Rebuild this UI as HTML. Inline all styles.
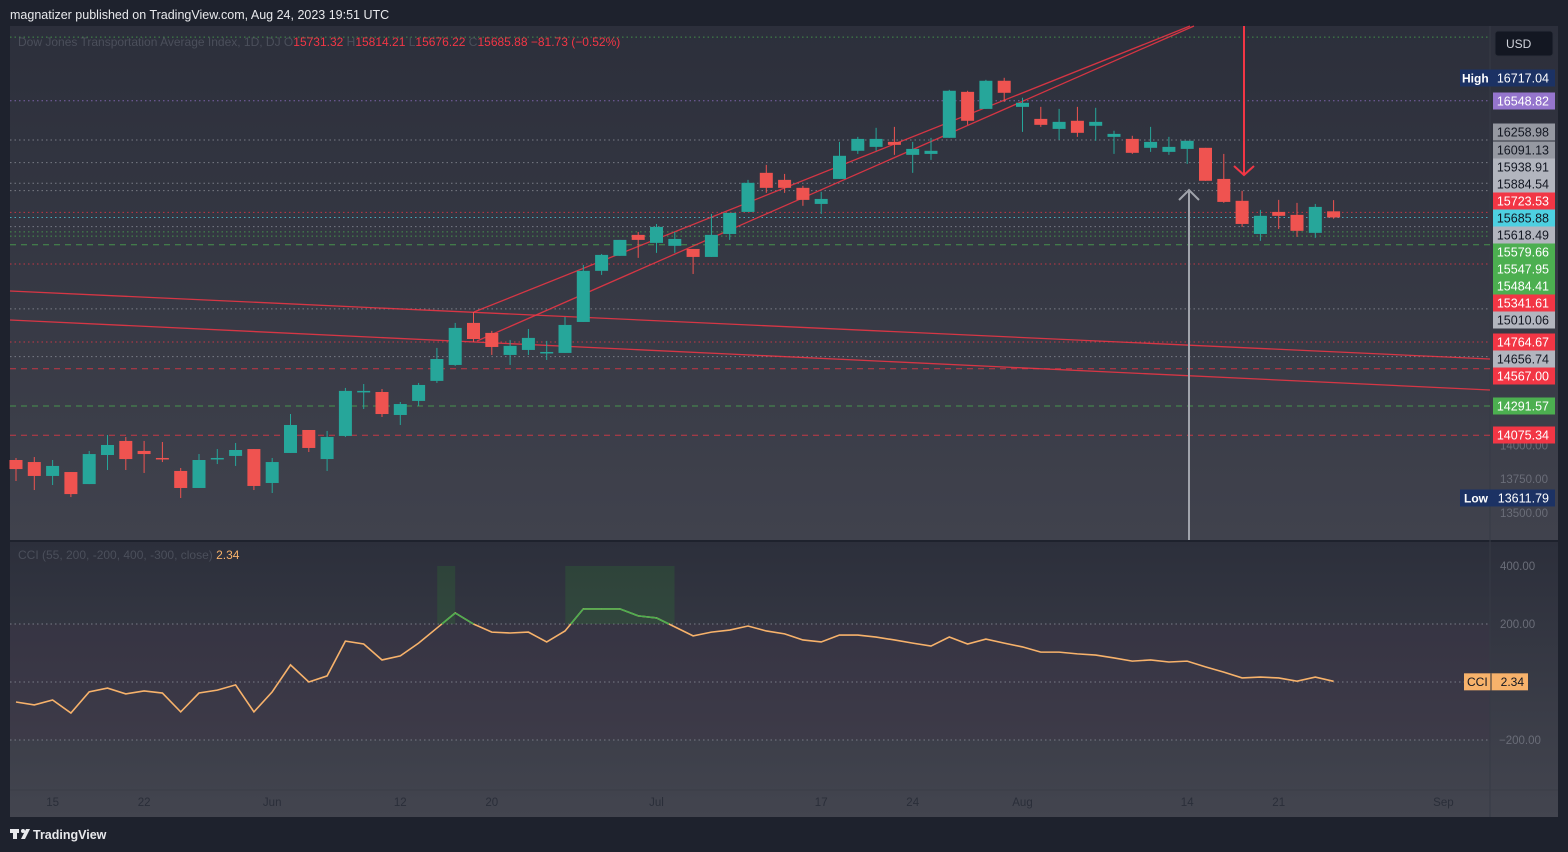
<!DOCTYPE html>
<html><head><meta charset="utf-8">
<style>
html,body{margin:0;padding:0;background:#1e222d;width:1568px;height:852px;overflow:hidden;font-family:"Liberation Sans",sans-serif;}
svg text{font-family:"Liberation Sans",sans-serif;}
</style></head>
<body>
<svg id="chart" width="1568" height="852" xmlns="http://www.w3.org/2000/svg">
<defs>
<linearGradient id="gMain" x1="0" y1="0" x2="0" y2="1"><stop offset="0" stop-color="#2c2f3b"/><stop offset="1" stop-color="#40424d"/></linearGradient>
<linearGradient id="gCci" x1="0" y1="0" x2="0" y2="1"><stop offset="0" stop-color="#2c2f3b"/><stop offset="1" stop-color="#43454f"/></linearGradient>
</defs>
<rect x="0" y="0" width="1568" height="852" fill="#1e222d"/>
<text x="10" y="19" fill="#e8e9ec" font-size="12.5">magnatizer published on TradingView.com, Aug 24, 2023 19:51 UTC</text>
<rect x="10" y="26" width="1548" height="514" fill="url(#gMain)"/>
<rect x="10" y="542" width="1548" height="275" fill="url(#gCci)"/>
<rect x="10" y="624" width="1480" height="116" fill="#3f3349" opacity="0.35"/>
<line x1="10" y1="541" x2="1558" y2="541" stroke="#1e222d" stroke-width="2"/>
<line x1="1490" y1="26" x2="1490" y2="817" stroke="#363a45" stroke-width="1"/>
<line x1="10" y1="790" x2="1558" y2="790" stroke="#3a3d48" stroke-width="1"/>
<g id="levels"></g>
<g id="trend"></g>
<g id="candles"></g>
<g id="cci"></g>
<g id="axis"></g>
<g id="labels"></g>
<text x="18" y="46" fill="#4b4f5b" font-size="12">Dow Jones Transportation Average Index, 1D, DJ  O<tspan fill="#f23645">15731.32</tspan><tspan fill="#4b4f5b">  H</tspan><tspan fill="#f23645">15814.21</tspan><tspan fill="#4b4f5b">  L</tspan><tspan fill="#f23645">15676.22</tspan><tspan fill="#4b4f5b">  C</tspan><tspan fill="#f23645">15685.88  −81.73 (−0.52%)</tspan></text>
<text x="18" y="559" fill="#4b4f5b" font-size="12">CCI (55, 200, -200, 400, -300, close)  <tspan fill="#f7b26b">2.34</tspan></text>
<rect x="1495" y="31" width="58" height="25" rx="3" fill="#131722" stroke="#2a2e39"/>
<text x="1506" y="48" fill="#d1d4dc" font-size="12">USD</text>
<g>
<rect x="10" y="829" width="9" height="4" fill="#e8e9ec"/><rect x="13" y="829" width="4" height="10" fill="#e8e9ec"/><circle cx="23" cy="831" r="2" fill="#e8e9ec"/><path d="M21 839 L26 829 L30 829 L25 839Z" fill="#e8e9ec"/>
<text x="33" y="839" fill="#e8e9ec" font-size="12.5" font-weight="bold">TradingView</text>
</g>
</svg>
<script>
const opens=[13892,13877,13774,13803,13714,13929,14033,13959,13907,13811,13685,13899,13922,13973,13722,13944,14114,13899,14070,14395,14395,14225,14329,14477,14595,14906,14832,14669,14706,14684,14684,14913,15291,15402,15557,15498,15476,15453,15394,15564,15727,16016,15964,15905,15786,15971,16179,16208,16245,16149,16156,16275,16615,16489,16697,16504,16415,16341,16401,16364,16282,16267,16201,16171,16193,16201,15971,15809,15564,15727,15705,15572,15731.32];
const highs=[13907,13914,13892,13803,13959,14077,14062,14033,14025,13833,13936,13973,14018,13973,13907,14232,14114,14107,14425,14454,14417,14321,14462,14721,14906,14987,14847,14780,14861,14773,14950,15335,15416,15520,15579,15638,15579,15453,15712,15720,15964,16075,16008,15920,15875,16245,16282,16349,16356,16245,16275,16630,16623,16704,16719,16571,16504,16489,16504,16497,16327,16290,16356,16282,16253,16201,16156,15883,15742,15816,15794,15786,15814.21];
const lows=[13737,13670,13707,13618,13714,13818,13818,13796,13877,13611,13685,13862,13848,13670,13648,13944,13951,13811,14062,14269,14210,14151,14292,14462,14588,14765,14669,14595,14669,14632,14684,14913,15261,15402,15387,15424,15424,15268,15394,15520,15727,15868,15868,15772,15712,15971,16156,16179,16149,16016,16112,16275,16371,16489,16541,16319,16356,16260,16282,16253,16156,16156,16171,16149,16082,15957,15794,15616,15513,15601,15542,15535,15676.22];
const closes=[13825,13774,13848,13640,13936,14003,13899,13936,13899,13685,13892,13907,13966,13700,13877,14151,13981,14062,14403,14403,14232,14306,14447,14639,14869,14787,14728,14736,14795,14691,14891,15291,15409,15520,15520,15616,15527,15394,15557,15720,15942,15905,15905,15816,15823,16142,16267,16267,16223,16193,16179,16623,16401,16697,16608,16534,16371,16393,16312,16393,16304,16164,16245,16208,16253,15957,15801,15638,15698,15698,15587,15764,15685.88];
const cciValues=[-69,-79,-62,-107,-34,-21,-41,-31,-38,-103,-38,-28,-10,-103,-34,59,0,21,141,131,76,90,134,186,238,200,172,169,172,138,176,252,252,252,228,221,190,159,172,179,193,176,166,145,138,162,162,155,145,134,124,155,131,148,134,121,103,103,97,93,83,72,76,69,72,52,34,14,17,14,3,17,2.34];
const timeLabels=["15","22","Jun","12","20","Jul","17","24","Aug","14","21","Sep"];
const timeLabelIdx=[2,7,14,21,26,35,44,49,55,64,69,78];
const priceTicks=[13500,13750,14000];
const cciTicks=[400,200,-200];
const levelPrices=[17020,16717.04,16548.82,16258.98,16091.13,15938.91,15884.54,15723.53,15685.88,15618.49,15579.66,15547.95,15484.41,15341.61,15010.06,14764.67,14656.74,14567.00,14291.57,14075.34];
const levelLabels=["","16717.04","16548.82","16258.98","16091.13","15938.91","15884.54","15723.53","15685.88","15618.49","15579.66","15547.95","15484.41","15341.61","15010.06","14764.67","14656.74","14567.00","14291.57","14075.34"];
const levelKinds=["g","hi","p","gr","gr","gr","gr","r","c","gr","g","g","gd","r","gr","r","gr","rd","gd","rd"];
// label layout (pixel slots on the price scale, not data)
const labelSlotY=[0,78,101,132,150,167,184,201,218,235,252,269,286,303,320,342,359,376,406,435];

const NS="http://www.w3.org/2000/svg";
function xOf(i){return 16+i*18.3;}
function yOf(p){return 513-(p-13500)*0.1352;}
function cy(v){return 682-v*0.29;}
function mk(tag,attrs,parent){const e=document.createElementNS(NS,tag);for(const k in attrs)e.setAttribute(k,attrs[k]);parent.appendChild(e);return e;}
const G=id=>document.getElementById(id);
const lineCol={g:"#4caf50",gd:"#4caf50",p:"#9575cd",gr:"#8a8d97",r:"#f23645",rd:"#f23645",c:"#4dd0e1",hi:"#2962ff"};
const boxCol={g:"#4caf50",gd:"#4caf50",p:"#9575cd",gr:"#b2b5be",r:"#f23645",rd:"#f23645",c:"#4dd0e1",hi:"#1c3264"};
levelPrices.forEach((p,i)=>{
  const k=levelKinds[i]; if(k==="hi")return;
  const l=mk("line",{x1:10,x2:1490,y1:yOf(p),y2:yOf(p),stroke:lineCol[k],"stroke-width":1,"stroke-dasharray":(k==="gd"||k==="rd")?"6 5":"1.5 3",opacity:k==="gr"?0.8:0.75},G("levels"));
  
  
});
[[10,291,1490,359],[10,320,1490,390],[474,312,1190,26],[477,341,1194,26]].forEach(t=>{
  const l=mk("line",{x1:t[0],y1:t[1],x2:t[2],y2:t[3],stroke:"#f23645","stroke-width":1.3,opacity:0.85},G("trend"));
  
  
});
const a1=mk("path",{d:"M1244 26 L1244 175 M1234 166 L1244 175 L1254 166",stroke:"#f23645","stroke-width":2,fill:"none"},G("trend"));


const a2=mk("path",{d:"M1189 540 L1189 190 M1179 200 L1189 190 L1199 200",stroke:"#a0a3ab","stroke-width":2,fill:"none"},G("trend"));


opens.forEach((o,i)=>{
  const c=closes[i],up=c>=o,col=up?"#26a69a":"#ef5350",x=xOf(i);
  const w=mk("line",{x1:x,x2:x,y1:yOf(highs[i]),y2:yOf(lows[i]),stroke:col,"stroke-width":1},G("candles"));
  
  
  const t=Math.min(yOf(o),yOf(c)),h=Math.max(1.5,Math.abs(yOf(o)-yOf(c)));
  const b=mk("rect",{x:x-6.5,y:t,width:13,height:h,fill:col},G("candles"));
  
  
});
[200,0,-200].forEach(v=>{
  const l=mk("line",{x1:10,x2:1490,y1:cy(v),y2:cy(v),stroke:"#787b86","stroke-width":1,"stroke-dasharray":"1.5 3"},G("cci"));
  
  
});
for(let i=0;i<cciValues.length;i++){
  if(cciValues[i]>200){
    let j=i;while(j+1<cciValues.length&&cciValues[j+1]>200)j++;
    const r=mk("rect",{x:xOf(i)-18,y:cy(400),width:xOf(j)-xOf(i)+18+(j>i?18:0),height:cy(200)-cy(400),fill:"#2e7d32",opacity:0.25},G("cci"));
    
    
    i=j;
  }
}
let d="";cciValues.forEach((v,i)=>{d+=(i?"L":"M")+xOf(i)+" "+cy(v)+" ";});
const cl=mk("path",{d:d,stroke:"#f7b26b","stroke-width":1.6,fill:"none"},G("cci"));


for(let i=1;i<cciValues.length;i++){
  if(cciValues[i]>200||cciValues[i-1]>200){
    const v0=cciValues[i-1],v1=cciValues[i];
    let x0=xOf(i-1),y0=cy(v0),x1=xOf(i),y1=cy(v1);
    if(v0<=200){const f=(200-v0)/(v1-v0);x0=x0+f*18.3;y0=cy(200);}
    if(v1<=200){const f=(v0-200)/(v0-v1);x1=xOf(i-1)+f*18.3;y1=cy(200);}
    const s=mk("line",{x1:x0,y1:y0,x2:x1,y2:y1,stroke:"#4caf50","stroke-width":1.6},G("cci"));
    
    
  }
}
priceTicks.forEach(p=>{
  const t=mk("text",{x:1500,y:yOf(p)+4,fill:"#6a6d78","font-size":11.5},G("axis"));t.textContent=p.toFixed(2);
  
  
});
cciTicks.forEach(v=>{
  const t=mk("text",{x:v<0?1499:1500,y:cy(v)+4,fill:"#6a6d78","font-size":11.5},G("axis"));t.textContent=(v<0?"−":"")+Math.abs(v).toFixed(2);
  
  
});
timeLabels.forEach((s,i)=>{
  const t=mk("text",{x:xOf(timeLabelIdx[i]),y:806,fill:"#2a2e39","font-size":11.5,"text-anchor":"middle"},G("axis"));t.textContent=s;
  
  
});
levelPrices.forEach((p,i)=>{
  if(!levelLabels[i])return;
  const k=levelKinds[i];
  const y=labelSlotY[i];
  const dark=(k==="gr"||k==="c");
  let fill=boxCol[k]; if(k==="gr"&&(i===3||i===4))fill="#9598a1";
  const r=mk("rect",{x:1493,y:y-8.5,width:62,height:17,fill:fill},G("labels"));
  
  
  const t=mk("text",{x:1549,y:y+4.5,fill:dark?"#131722":"#ffffff","font-size":12.5,"text-anchor":"end"},G("labels"));t.textContent=levelLabels[i];
  
  
  if(k==="hi"){
    const r2=mk("rect",{x:1460,y:y-8.5,width:33,height:17,fill:"#1c3264"},G("labels"));
    
    
    const t2=mk("text",{x:1462,y:y+4.5,fill:"#fff","font-size":12,"font-weight":"bold"},G("labels"));t2.textContent="High";
    
    
  }
});
(function(){
  const y=498;
  const r=mk("rect",{x:1460,y:y-8.5,width:95,height:17,fill:"#1c3264"},G("labels"));
  
  
  const t=mk("text",{x:1464,y:y+4.5,fill:"#fff","font-size":12,"font-weight":"bold"},G("labels"));t.textContent="Low";
  
  
  const t2=mk("text",{x:1549,y:y+4.5,fill:"#fff","font-size":12.5,"text-anchor":"end"},G("labels"));t2.textContent="13611.79";
  
  
  const last=cciValues[cciValues.length-1],cyv=cy(last);
  const r3=mk("rect",{x:1464,y:cyv-8,width:64,height:17,fill:"#f7b26b"},G("labels"));
  
  
  mk("line",{x1:1491,x2:1491,y1:cyv-8,y2:cyv+9,stroke:"#2a2e39"},G("labels"));
  const t3=mk("text",{x:1467,y:cyv+4.5,fill:"#131722","font-size":12},G("labels"));t3.textContent="CCI";
  
  
  const t4=mk("text",{x:1524,y:cyv+4.5,fill:"#131722","font-size":12,"text-anchor":"end"},G("labels"));t4.textContent=last.toFixed(2);
  
  
})();
</script>
</body></html>
